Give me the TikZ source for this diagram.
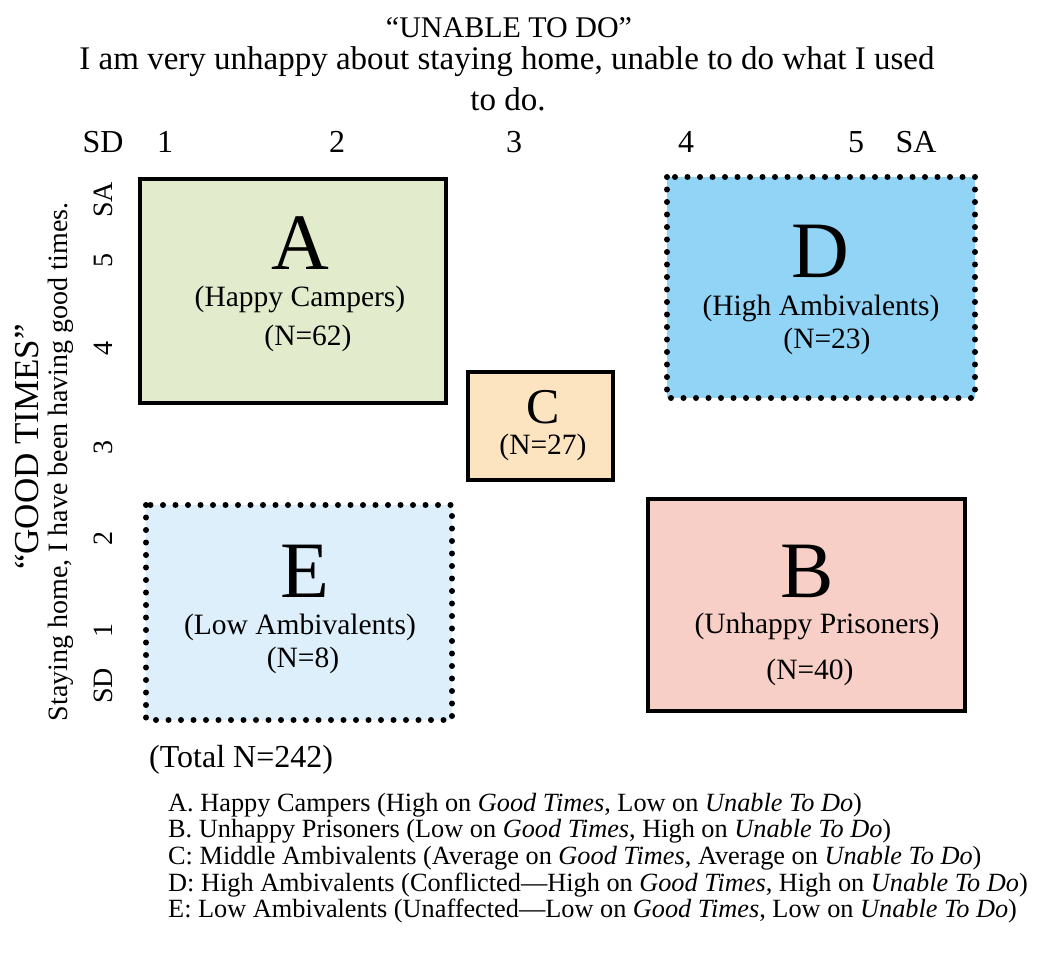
\documentclass[tikz,border=0pt]{standalone}
\usepackage{fontspec}
\setmainfont{Liberation Serif}
\usepackage{xcolor}
\definecolor{campgreen}{RGB}{226,235,204}
\definecolor{highblue}{RGB}{146,212,245}
\definecolor{midpeach}{RGB}{253,228,192}
\definecolor{lowblue}{RGB}{221,239,250}
\definecolor{prisonpink}{RGB}{247,207,198}
\tikzset{
  solidbox/.style={draw=black, line width=4pt},
  dotbox/.style={draw=black, line width=6pt, line cap=round, dash pattern=on 0pt off 12.5pt},
  biglet/.style={inner sep=0pt, font=\fontsize{80}{80}\selectfont},
  boxtxt/.style={inner sep=0pt, font=\fontsize{29.5}{30}\selectfont},
  ticklab/.style={inner sep=0pt, font=\fontsize{28}{28}\selectfont},
  toptick/.style={ticklab, font=\fontsize{32}{32}\selectfont},
  titletxt/.style={inner sep=0pt, font=\fontsize{33}{33}\selectfont},
  legtxt/.style={inner sep=0pt, anchor=base west, font=\fontsize{26.3}{26.3}\selectfont},
}
\begin{document}
\begin{tikzpicture}[x=1pt,y=-1pt]
\useasboundingbox (0,0) rectangle (1049,953);
% axis titles
\node[titletxt, font=\fontsize{30}{30}\selectfont] (ttlup) at (509,28) {``UNABLE TO DO''};
\node[titletxt] (ttlmid) at (507,62) {I am very unhappy about staying home, unable to do what I used};
\node[titletxt] (ttllow) at (508,99) {to do.};
\node[titletxt, rotate=90, font=\fontsize{35}{35}\selectfont] (gtup) at (27,447) {``GOOD TIMES''};
\node[ticklab, rotate=90] (gtlow) at (61,462) {Staying home, I have been having good times.};
% ticks, top
\node[toptick] (xsd) at (103,142) {SD};
\node[toptick] (x1) at (165,142) {1};
\node[toptick] (x2) at (337,142) {2};
\node[toptick] (x3) at (514,142) {3};
\node[toptick] (x4) at (686,142) {4};
\node[toptick] (x5) at (856,142) {5};
\node[toptick] (xsa) at (916,142) {SA};
% ticks, left
\node[ticklab, rotate=90] (ysa) at (103,200) {SA};
\node[ticklab, rotate=90] (y5) at (103,260) {5};
\node[ticklab, rotate=90] (y4) at (103,348) {4};
\node[ticklab, rotate=90] (y3) at (103,447) {3};
\node[ticklab, rotate=90] (y2) at (103,538) {2};
\node[ticklab, rotate=90] (y1) at (103,630) {1};
\node[ticklab, rotate=90] (ysd) at (103,686) {SD};
% A
\filldraw[solidbox, fill=campgreen] (140,179) rectangle (446,403);
\node[biglet] (aLet) at (300,243) {A};
\node[boxtxt] (aName) at (300,299) {(Happy Campers)};
\node[boxtxt] (aN) at (308,338) {(N=62)};
% D
\fill[highblue] (667,177) rectangle (975,398);
\draw[dotbox] (667,177) rectangle (975,398);
\node[biglet] (dLet) at (820,251) {D};
\node[boxtxt] (dName) at (821,308) {(High Ambivalents)};
\node[boxtxt] (dN) at (827,341) {(N=23)};
% C
\filldraw[solidbox, fill=midpeach] (468,372) rectangle (613,480);
\node[biglet, font=\fontsize{50}{50}\selectfont] (cLet) at (543,407) {C};
\node[boxtxt] (cN) at (543,447) {(N=27)};
% E
\fill[lowblue] (146,505) rectangle (452,720);
\draw[dotbox] (146,505) rectangle (452,720);
\node[biglet] (eLet) at (305,571) {E};
\node[boxtxt] (eName) at (300,627) {(Low Ambivalents)};
\node[boxtxt] (eN) at (303,660) {(N=8)};
% B
\filldraw[solidbox, fill=prisonpink] (648,499) rectangle (965,711);
\node[biglet] (bLet) at (807,571) {B};
\node[boxtxt] (bName) at (817,626) {(Unhappy Prisoners)};
\node[boxtxt] (bN) at (810,672) {(N=40)};
% total and key
\node[inner sep=0pt, anchor=west, font=\fontsize{32}{32}\selectfont] (total) at (149,760) {(Total N=242)};
\foreach \lgtxt [count=\i from 0] in {%
  {A. Happy Campers (High on \textit{Good Times}, Low on \textit{Unable To Do})},
  {B. Unhappy Prisoners (Low on \textit{Good Times}, High on \textit{Unable To Do})},
  {C: Middle Ambivalents (Average on \textit{Good Times}, Average on \textit{Unable To Do})},
  {D: High Ambivalents (Conflicted---High on \textit{Good Times}, High on \textit{Unable To Do})},
  {E: Low Ambivalents (Unaffected---Low on \textit{Good Times}, Low on \textit{Unable To Do})}}
  \node[legtxt] (key\i) at (168,811+26.7*\i) {\lgtxt};
\end{tikzpicture}
\end{document}
